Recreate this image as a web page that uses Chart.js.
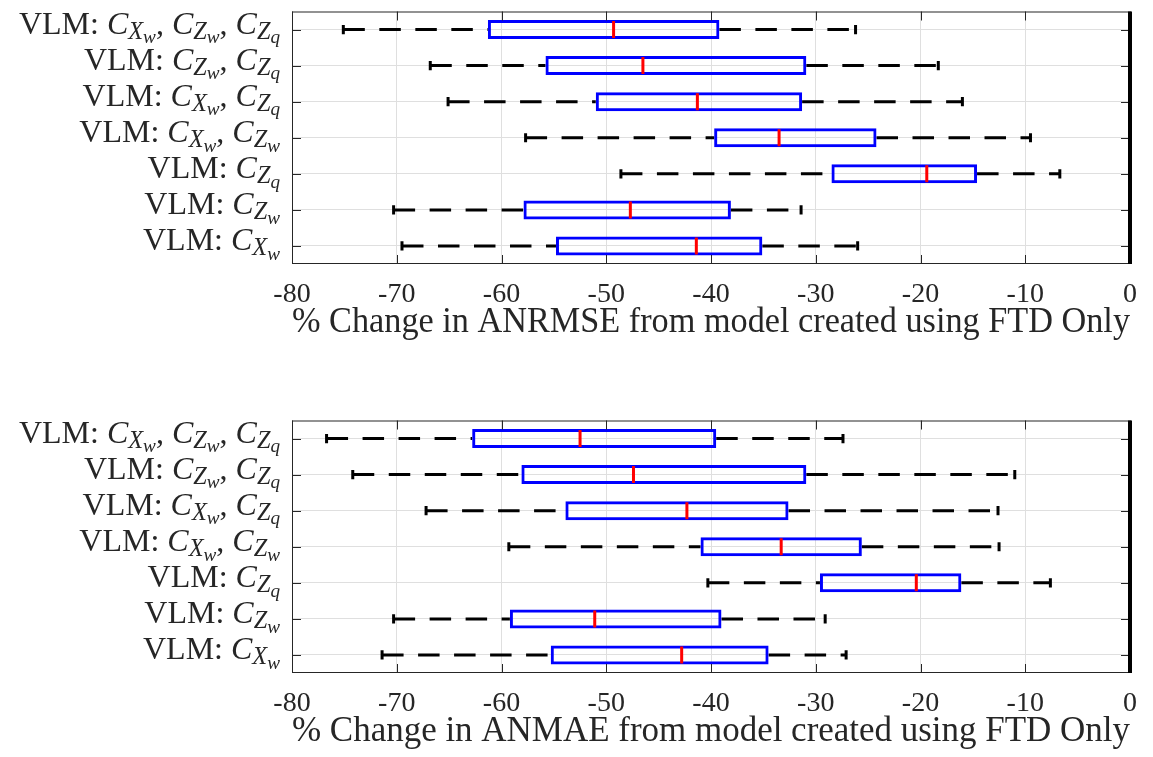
<!DOCTYPE html>
<html>
<head>
<meta charset="utf-8">
<script src="https://cdn.jsdelivr.net/npm/chart.js@4.4.1/dist/chart.umd.min.js"></script>
<style>
  html, body { margin: 0; padding: 0; background: #fff; overflow: hidden; }
  #wrap { position: relative; width: 1153px; height: 757px; overflow: hidden; }
  .panel { position: absolute; left: 0; width: 1153px; height: 378px; }
</style>
</head>
<body>
<div id="wrap">
  <div class="panel" style="top:0"><canvas id="rmseChart" width="1153" height="378"></canvas></div>
  <div class="panel" style="top:409px"><canvas id="maeChart" width="1153" height="378"></canvas></div>
</div>
<script>
// model combinations, top row first
const categories = [
    'VLM: C_{X_w}, C_{Z_w}, C_{Z_q}',
    'VLM: C_{Z_w}, C_{Z_q}',
    'VLM: C_{X_w}, C_{Z_q}',
    'VLM: C_{X_w}, C_{Z_w}',
    'VLM: C_{Z_q}',
    'VLM: C_{Z_w}',
    'VLM: C_{X_w}'
];
const xTicks = [ -80, -70, -60, -50, -40, -30, -20, -10, 0 ];

// % change in ANRMSE
const rmseMin    = [ -75.1, -66.8, -65.1, -57.7, -48.6, -70.3, -69.5 ];
const rmseQ1     = [ -61.3, -55.8, -51.0, -39.7, -28.5, -57.9, -54.8 ];
const rmseMedian = [ -49.3, -46.5, -41.3, -33.5, -19.4, -47.7, -41.4 ];
const rmseQ3     = [ -39.2, -30.9, -31.3, -24.2, -14.6, -38.1, -35.1 ];
const rmseMax    = [ -26.2, -18.3, -16.0, -9.5, -6.7, -31.4, -26.0 ];

// % change in ANMAE
const maeMin    = [ -76.7, -74.2, -67.2, -59.3, -40.3, -70.3, -71.4 ];
const maeQ1     = [ -62.8, -58.1, -53.9, -41.0, -29.6, -59.2, -55.3 ];
const maeMedian = [ -52.5, -47.4, -42.3, -33.3, -20.4, -51.1, -42.8 ];
const maeQ3     = [ -39.5, -30.9, -32.6, -25.6, -16.1, -39.0, -34.5 ];
const maeMax    = [ -27.4, -11.0, -12.6, -12.5, -7.6, -29.1, -27.1 ];

const serif = '"Liberation Serif", "Times New Roman", serif';
const textColor = '#262626';
const gridColor = '#dfdfdf';

Chart.defaults.font.family = serif;

// draw "VLM: C_{X_w}" style labels with subscripts
function drawMathLabel ( ctx, text, xRight, yMid, size )
{
    let pieces = [];
    let re = /C_\{([A-Z])_([a-z])\}/g;
    let last = 0, m;
    while ( ( m = re.exec( text ) ) )
    {
        if ( m.index > last ) pieces.push( { t: text.slice( last, m.index ), font: size + 'px ' + serif, dy: 0 } );
        pieces.push( { t: 'C', font: 'italic ' + size + 'px ' + serif, dy: 0 } );
        pieces.push( { t: m[ 1 ], font: 'italic ' + ( size * 0.76 ) + 'px ' + serif, dy: size * 0.16 } );
        pieces.push( { t: m[ 2 ], font: 'italic ' + ( size * 0.6 ) + 'px ' + serif, dy: size * 0.3 } );
        last = re.lastIndex;
    }
    if ( last < text.length ) pieces.push( { t: text.slice( last ), font: size + 'px ' + serif, dy: 0 } );

    let total = 0;
    pieces.forEach( p => { ctx.font = p.font; p.w = ctx.measureText( p.t ).width; total += p.w; } );
    let x = xRight - total;
    let base = yMid + size * 0.13;
    ctx.fillStyle = textColor;
    ctx.textBaseline = 'alphabetic';
    ctx.textAlign = 'left';
    pieces.forEach( p => { ctx.font = p.font; ctx.fillText( p.t, x, base + p.dy ); x += p.w; } );
}

// MATLAB style frame: box, inward ticks, thick zero line, y labels
const matlabFrame = {
    id: 'matlabFrame',
    afterDatasetsDraw ( chart )
    {
        let { ctx, chartArea: a, scales: { x, y } } = chart;
        ctx.save();
        ctx.strokeStyle = textColor;
        ctx.lineWidth = 1;
        ctx.strokeRect( a.left + 0.5, a.top + 0.5, a.width - 1, a.height - 1 );
        ctx.beginPath();
        xTicks.forEach( v =>
        {
            let px = Math.round( x.getPixelForValue( v ) ) + 0.5;
            ctx.moveTo( px, a.top ); ctx.lineTo( px, a.top + 9 );
            ctx.moveTo( px, a.bottom ); ctx.lineTo( px, a.bottom - 9 );
        } );
        categories.forEach( ( c, i ) =>
        {
            let py = Math.round( y.getPixelForValue( i ) ) + 0.5;
            ctx.moveTo( a.left, py ); ctx.lineTo( a.left + 9, py );
            ctx.moveTo( a.right, py ); ctx.lineTo( a.right - 9, py );
        } );
        ctx.stroke();
        let x0 = x.getPixelForValue( 0 );
        ctx.strokeStyle = '#000';
        ctx.lineWidth = 4;
        ctx.beginPath();
        ctx.moveTo( x0, a.top ); ctx.lineTo( x0, a.bottom );
        ctx.stroke();
        ctx.restore();
    },
    afterDraw ( chart )
    {
        let { ctx, chartArea: a, scales: { y } } = chart;
        ctx.save();
        categories.forEach( ( c, i ) => drawMathLabel( ctx, c, a.left - 12, y.getPixelForValue( i ), 32 ) );
        ctx.restore();
    }
};

function whisker ( from, to )
{
    let pts = [];
    categories.forEach( ( c, i ) =>
    {
        pts.push( { x: from[ i ], y: c }, { x: to[ i ], y: c }, { x: null, y: c } );
    } );
    return pts;
}

function makeBoxChart ( id, mins, q1, med, q3, maxs, title )
{
    let ctx = document.getElementById( id ).getContext( '2d' );
    return new Chart( ctx, {
        type: 'bar',
        data: {
            labels: categories,
            datasets: [
                {
                    type: 'line',
                    data: categories.map( ( c, i ) => ( { x: med[ i ], y: c } ) ),
                    showLine: false,
                    pointStyle: 'line',
                    pointRotation: 90,
                    pointRadius: 8.5,
                    pointBorderWidth: 3,
                    pointBorderColor: '#ff0000',
                    borderColor: '#ff0000'
                },
                {
                    type: 'line',
                    data: categories.flatMap( ( c, i ) => [ { x: mins[ i ], y: c }, { x: maxs[ i ], y: c } ] ),
                    showLine: false,
                    pointStyle: 'line',
                    pointRotation: 90,
                    pointRadius: 4.6,
                    pointBorderWidth: 3,
                    pointBorderColor: '#000',
                    borderColor: '#000'
                },
                {
                    data: categories.map( ( c, i ) => [ q1[ i ], q3[ i ] ] ),
                    backgroundColor: 'rgba(0,0,0,0)',
                    borderColor: '#0000ff',
                    borderWidth: 3,
                    borderSkipped: false,
                    inflateAmount: 0,
                    barThickness: 19
                },
                {
                    type: 'line',
                    data: whisker( mins, q1 ),
                    borderColor: '#000',
                    borderWidth: 3,
                    borderDash: [ 21.5, 14.5 ],
                    pointRadius: 0,
                    spanGaps: false
                },
                {
                    type: 'line',
                    data: whisker( q3, maxs ),
                    borderColor: '#000',
                    borderWidth: 3,
                    borderDash: [ 21.5, 14.5 ],
                    pointRadius: 0,
                    spanGaps: false
                }
            ]
        },
        options: {
            indexAxis: 'y',
            responsive: false,
            animation: false,
            events: [],
            layout: { padding: { left: 0, top: 10, right: 23, bottom: 0 } },
            plugins: { legend: { display: false }, tooltip: { enabled: false } },
            scales: {
                x: {
                    type: 'linear',
                    position: 'bottom',
                    min: -80,
                    max: 0,
                    afterBuildTicks: scale => { scale.ticks = xTicks.map( v => ( { value: v } ) ); },
                    afterFit: scale => { scale.height = 114; },
                    grid: { color: gridColor, drawTicks: false },
                    border: { display: false },
                    ticks: { color: textColor, font: { size: 28 }, padding: 14 },
                    title: { display: true, text: title, color: textColor, font: { size: 36 }, padding: { top: 0, bottom: 34 } }
                },
                y: {
                    type: 'category',
                    offset: true,
                    afterFit: scale => { scale.width = 292; },
                    grid: { color: gridColor, drawTicks: false, offset: false },
                    border: { display: false },
                    ticks: { display: false }
                }
            }
        },
        plugins: [ matlabFrame ]
    } );
}

makeBoxChart( 'rmseChart', rmseMin, rmseQ1, rmseMedian, rmseQ3, rmseMax, '% Change in ANRMSE from model created using FTD Only' );
makeBoxChart( 'maeChart', maeMin, maeQ1, maeMedian, maeQ3, maeMax, '% Change in ANMAE from model created using FTD Only' );
</script>
</body>
</html>
